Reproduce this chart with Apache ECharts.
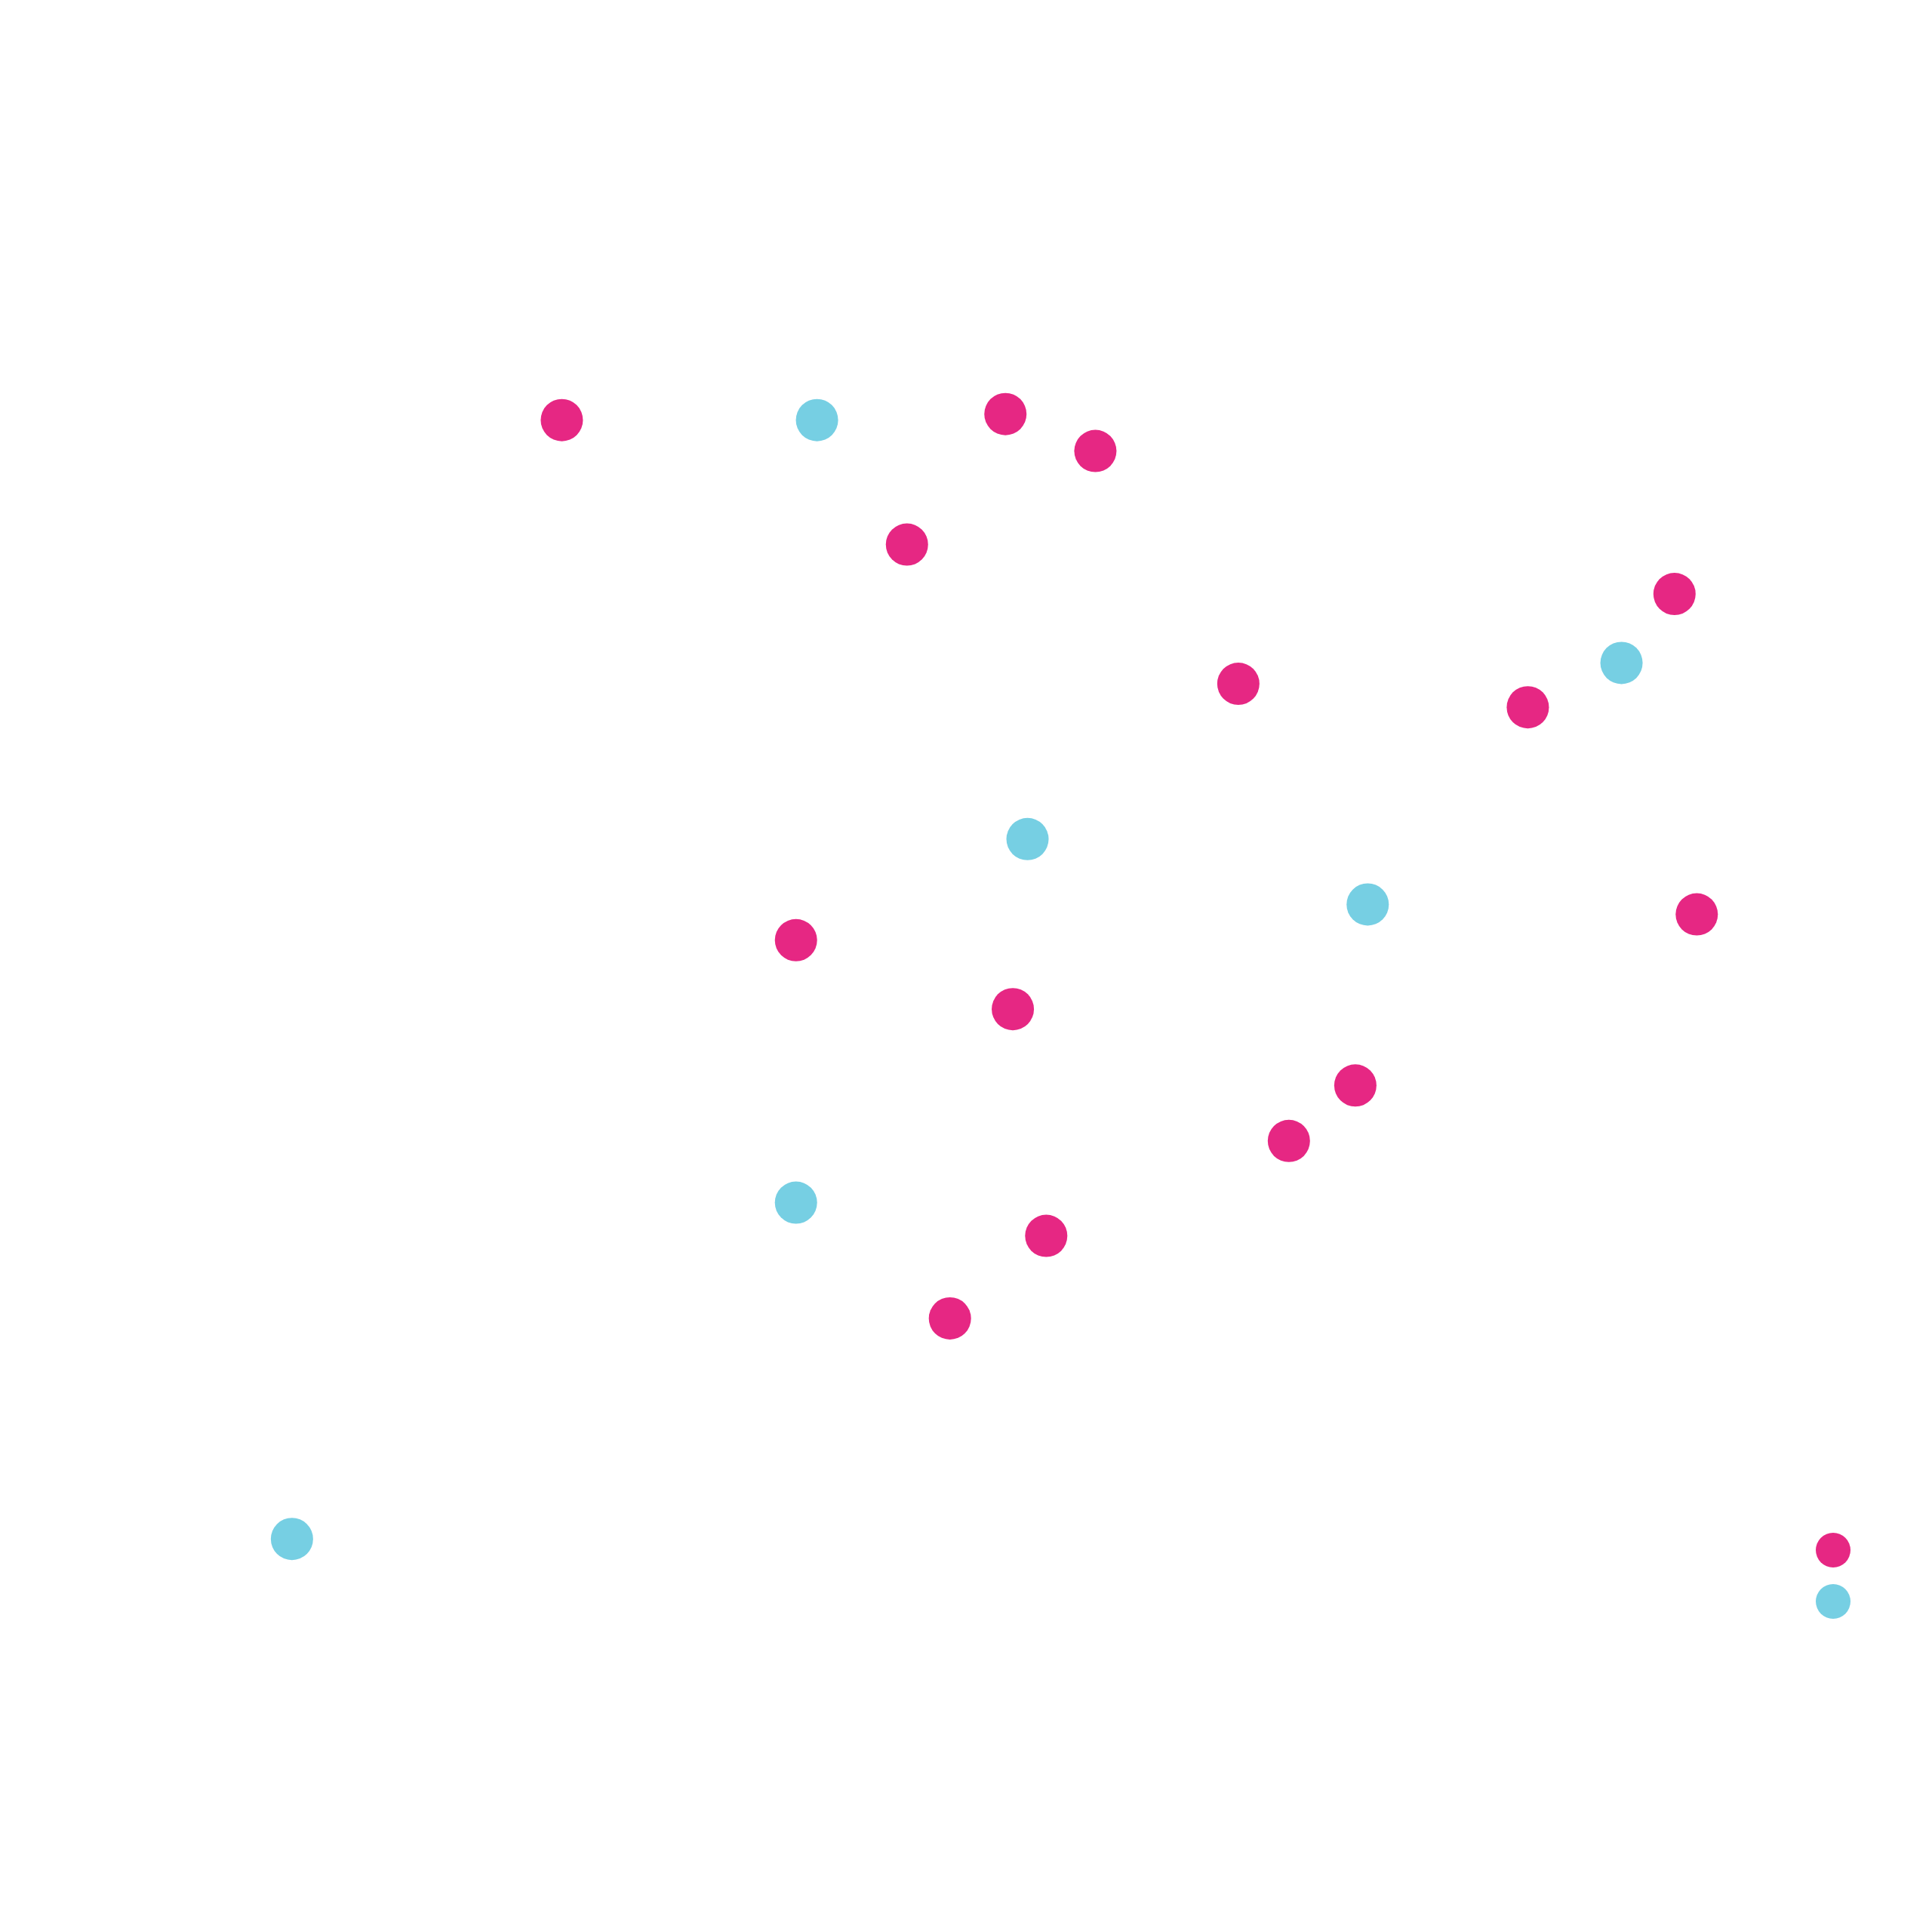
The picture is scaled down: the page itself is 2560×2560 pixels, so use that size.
<!DOCTYPE html>
<html>
<head>
<meta charset="utf-8">
<script src="https://cdn.jsdelivr.net/npm/echarts@6/dist/echarts.min.js"></script>
<style>html,body{margin:0;padding:0;background:#fff;}#c{width:2560px;height:2560px;}</style>
</head>
<body>
<div id="c"></div>
<script>
const seriesNames = ['A', 'B'];
const magentaX = [23.85, 52.55, 58.37, 46.18, 95.84, 67.62, 86.35, 97.28, 39.0, 53.03, 75.19, 70.89, 55.19, 48.96];
const magentaY = [85.32, 85.71, 83.32, 77.27, 74.07, 68.26, 66.74, 53.34, 51.67, 47.21, 42.27, 38.68, 32.54, 27.20];
const cyanX = [40.36, 92.41, 53.98, 75.99, 39.0, 6.39];
const cyanY = [85.32, 69.61, 58.21, 53.98, 34.69, 12.93];

const zip = (xs, ys) => xs.map((x, i) => [x, ys[i]]);
const chart = echarts.init(document.getElementById('c'));
chart.setOption({
  animation: false,
  backgroundColor: '#ffffff',
  grid: { left: 256, right: 256, top: 256, bottom: 256 },
  xAxis: { type: 'value', min: 0, max: 100, show: false },
  yAxis: { type: 'value', min: 0, max: 100, show: false },
  legend: {
    orient: 'vertical',
    left: 2406,
    top: 2031,
    padding: 0,
    itemWidth: 46,
    itemHeight: 46,
    itemGap: 22,
    icon: 'circle',
    formatter: () => '',
    data: seriesNames
  },
  series: [
    { name: seriesNames[0], type: 'scatter', symbolSize: 56, itemStyle: { color: '#e62783', opacity: 1 }, data: zip(magentaX, magentaY) },
    { name: seriesNames[1], type: 'scatter', symbolSize: 56, itemStyle: { color: '#76cfe3', opacity: 1 }, data: zip(cyanX, cyanY) }
  ]
});
</script>
</body>
</html>
